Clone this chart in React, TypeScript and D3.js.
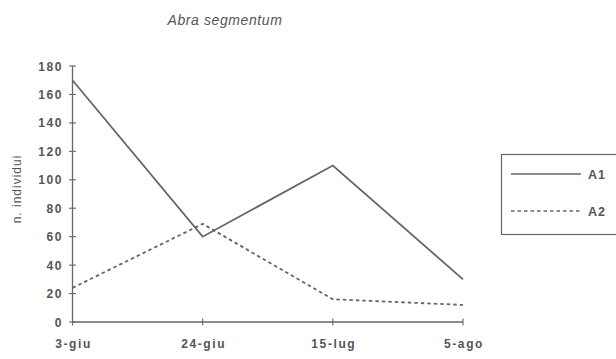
import React from "react";
import * as d3 from "d3";

const categories = ["3-giu", "24-giu", "15-lug", "5-ago"];
const seriesA1 = [170, 60, 110, 30];
const seriesA2 = [24, 69, 16, 12];
const yTicks = [0, 20, 40, 60, 80, 100, 120, 140, 160, 180];
const seriesNames = ["A1", "A2"];

export default function App() {
  const W = 616, H = 359;
  const x = d3.scalePoint<string>().domain(categories).range([72.5, 463]);
  const y = d3.scaleLinear().domain([0, 180]).range([322, 66]);
  const line = d3
    .line<number>()
    .x((_, i) => x(categories[i]) as number)
    .y((d) => y(d));
  const col = "#666";
  const txt = "#555";
  const font = "Arial, 'Liberation Sans', Helvetica, sans-serif";
  return (
    <svg width={W} height={H} style={{ position: "absolute", left: 0, top: 0, background: "#fff" }}>
      <rect width={W} height={H} fill="#fff" />
      <text x={225} y={25} textAnchor="middle" fontFamily={font} fontStyle="italic" fontSize={14} letterSpacing={0.6} fill={txt}>
        Abra  segmentum
      </text>
      {/* y axis */}
      <line x1={72.5} x2={72.5} y1={y(180)} y2={y(0)} stroke={col} strokeWidth={1.3} />
      {yTicks.map((t) => (
        <g key={t}>
          <line x1={69} x2={76} y1={y(t)} y2={y(t)} stroke={col} strokeWidth={1.1} />
          <text x={63} y={y(t) + 4.5} textAnchor="end" fontFamily={font} fontWeight="bold" fontSize={12} letterSpacing={1.6} fill={txt}>
            {t}
          </text>
        </g>
      ))}
      {/* x axis */}
      <line x1={72.5} x2={463} y1={y(0)} y2={y(0)} stroke={col} strokeWidth={1.3} />
      {categories.map((c) => (
        <g key={c}>
          <line x1={x(c)} x2={x(c)} y1={y(0) - 3.5} y2={y(0) + 3.5} stroke={col} strokeWidth={1.1} />
          <text x={(x(c) as number) + 1} y={348} textAnchor="middle" fontFamily={font} fontWeight="bold" fontSize={12} letterSpacing={1.6} fill={txt}>
            {c}
          </text>
        </g>
      ))}
      <text
        transform={`translate(21,189) rotate(-90)`}
        textAnchor="middle"
        fontFamily={font}
        fontSize={12}
        letterSpacing={1}
        fill={txt}
      >
        n.  individui
      </text>
      <path d={line(seriesA1) || ""} fill="none" stroke={col} strokeWidth={1.8} />
      <path d={line(seriesA2) || ""} fill="none" stroke={col} strokeWidth={1.8} strokeDasharray="3.5,3" />
      {/* legend */}
      <rect x={501.5} y={154.5} width={120} height={80} fill="none" stroke={col} strokeWidth={1.2} />
      <line x1={511} x2={581} y1={174} y2={174} stroke={col} strokeWidth={1.6} />
      <line x1={511} x2={581} y1={211} y2={211} stroke={col} strokeWidth={1.6} strokeDasharray="3.5,3" />
      <text x={588} y={178.5} fontFamily={font} fontWeight="bold" fontSize={12.5} letterSpacing={1} fill={txt}>{seriesNames[0]}</text>
      <text x={588} y={215.5} fontFamily={font} fontWeight="bold" fontSize={12.5} letterSpacing={1} fill={txt}>{seriesNames[1]}</text>
    </svg>
  );
}
